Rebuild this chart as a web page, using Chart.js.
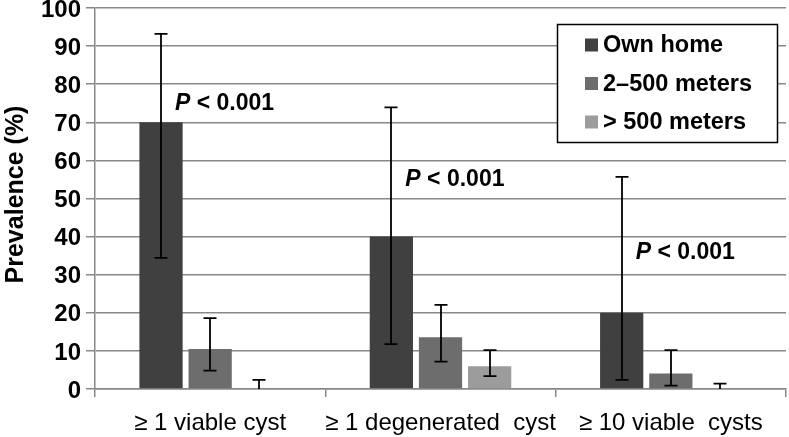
<!DOCTYPE html>
<html>
<head>
<meta charset="utf-8">
<script src="https://cdn.jsdelivr.net/npm/chart.js@4.4.0/dist/chart.umd.min.js"></script>
<style>
  html, body { margin: 0; padding: 0; background: #fff; }
  #wrap { position: relative; width: 789px; height: 437px; }
</style>
</head>
<body>
<div id="wrap"><canvas id="chart" width="789" height="437"></canvas></div>
<script>
// categories and series
const categories = ['≥ 1 viable cyst', '≥ 1 degenerated  cyst', '≥ 10 viable  cysts'];
const seriesNames = ['Own home', '2–500 meters', '> 500 meters'];
const seriesColors = ['#404040', '#6d6d6d', '#9c9c9c'];

const ownHome = [70, 40, 20];
const mid = [10.5, 13.6, 4.1];
const far = [0, 6.0, 0];

// 95% CI bounds (low, high) per series
const ownHomeLow = [34.4, 11.8, 2.4];
const ownHomeHigh = [93.2, 73.9, 55.7];
const midLow = [4.8, 7.2, 0.9];
const midHigh = [18.6, 22.1, 10.2];
const farLow = [0, 3.4, 0];
const farHigh = [2.4, 10.2, 1.4];

// significance labels: value (y) per category
const pLabelValues = [74.8, 54.9, 35.7];
const pLabelText = '< 0.001';

const yTicks = [0, 10, 20, 30, 40, 50, 60, 70, 80, 90, 100];

const lows = [ownHomeLow, midLow, farLow];
const highs = [ownHomeHigh, midHigh, farHigh];

const FONT = '"Liberation Sans", Arial, sans-serif';

// error bars with caps
const errorBars = {
  id: 'errorBars',
  afterDatasetsDraw(chart) {
    const { ctx, scales: { y } } = chart;
    ctx.save();
    ctx.strokeStyle = '#000';
    ctx.lineWidth = 1.8;
    chart.data.datasets.forEach((ds, di) => {
      const meta = chart.getDatasetMeta(di);
      meta.data.forEach((bar, i) => {
        const x = Math.round(bar.x);
        const top = y.getPixelForValue(highs[di][i]);
        const bot = y.getPixelForValue(lows[di][i]);
        ctx.beginPath();
        ctx.moveTo(x, top); ctx.lineTo(x, bot);
        ctx.moveTo(x - 6.5, top); ctx.lineTo(x + 6.5, top);
        if (lows[di][i] > 0) { ctx.moveTo(x - 6.5, bot); ctx.lineTo(x + 6.5, bot); }
        ctx.stroke();
      });
    });
    ctx.restore();
  }
};

// "P < 0.001" labels next to own-home bars
const pLabels = {
  id: 'pLabels',
  afterDatasetsDraw(chart) {
    const { ctx, scales: { y } } = chart;
    const meta = chart.getDatasetMeta(0);
    ctx.save();
    ctx.fillStyle = '#000';
    ctx.textBaseline = 'middle';
    meta.data.forEach((bar, i) => {
      let x = bar.x + 14;
      const yy = y.getPixelForValue(pLabelValues[i]);
      ctx.font = 'italic bold 23px ' + FONT;
      ctx.fillText('P', x, yy);
      x += ctx.measureText('P ').width;
      ctx.font = 'bold 23px ' + FONT;
      ctx.fillText(pLabelText, x, yy);
    });
    ctx.restore();
  }
};

// boxed legend inside the plot, upper right
const boxLegend = {
  id: 'boxLegend',
  afterDraw(chart) {
    const { ctx } = chart;
    const left = 557, top = 24, w = 220, h = 118;
    ctx.save();
    ctx.fillStyle = '#fff';
    ctx.fillRect(left, top, w, h);
    ctx.strokeStyle = '#000';
    ctx.lineWidth = 1.5;
    ctx.strokeRect(left + 0.5, top + 0.5, w, h);
    ctx.font = 'bold 23.5px ' + FONT;
    ctx.textBaseline = 'middle';
    chart.data.datasets.forEach((ds, i) => {
      const cy = top + 21 + i * 38.5;
      ctx.fillStyle = ds.backgroundColor;
      ctx.fillRect(left + 28, cy - 6.5, 13, 13);
      ctx.fillStyle = '#000';
      ctx.fillText(ds.label, left + 46, cy + 1);
    });
    ctx.restore();
  }
};

// rotated y-axis title
const yTitle = {
  id: 'yTitle',
  afterDraw(chart) {
    const { ctx, chartArea } = chart;
    ctx.save();
    ctx.translate(16, (chartArea.top + chartArea.bottom) / 2 - 4);
    ctx.rotate(-Math.PI / 2);
    ctx.font = 'bold 25px ' + FONT;
    ctx.fillStyle = '#000';
    ctx.textAlign = 'center';
    ctx.textBaseline = 'middle';
    ctx.fillText('Prevalence (%)', 0, 0);
    ctx.restore();
  }
};

new Chart(document.getElementById('chart'), {
  type: 'bar',
  data: {
    labels: categories,
    datasets: [ownHome, mid, far].map((d, i) => ({
      label: seriesNames[i],
      data: d,
      backgroundColor: seriesColors[i],
      borderWidth: 0,
      categoryPercentage: 0.64,
      barPercentage: 0.88
    }))
  },
  options: {
    responsive: false,
    animation: false,
    layout: { padding: { top: 8, right: 3, left: 0, bottom: 0 } },
    plugins: {
      legend: { display: false },
      tooltip: { enabled: false }
    },
    scales: {
      x: {
        afterFit(scale) { scale.height = 48; scale.paddingLeft = 0; scale.paddingRight = 0; },
        grid: {
          offset: true,
          drawOnChartArea: false,
          color: '#888',
          lineWidth: 1.5,
          tickLength: 8
        },
        border: { color: '#888', width: 1.5 },
        ticks: {
          color: '#000',
          padding: 12,
          maxRotation: 0,
          minRotation: 0,
          autoSkip: false,
          font: { family: FONT, size: 24 }
        }
      },
      y: {
        min: 0,
        max: 100,
        afterFit(scale) { scale.width = 95; scale.paddingTop = 0; scale.paddingBottom = 0; },
        afterBuildTicks(scale) { scale.ticks = yTicks.map(v => ({ value: v })); },
        grid: { color: '#888', lineWidth: 1.5, tickLength: 9 },
        border: { color: '#888', width: 1.5 },
        ticks: {
          color: '#000',
          padding: 5,
          labelOffset: 2,
          font: { family: FONT, size: 24, weight: 'bold' }
        }
      }
    }
  },
  plugins: [errorBars, pLabels, boxLegend, yTitle]
});
</script>
</body>
</html>
